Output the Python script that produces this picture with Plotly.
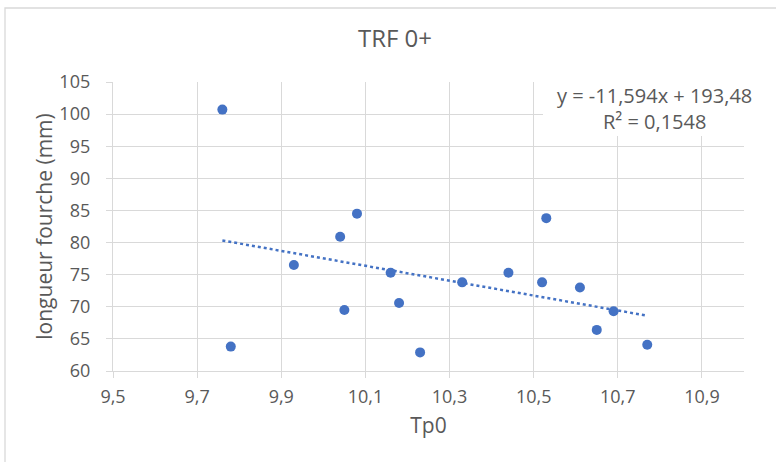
import plotly.graph_objects as go

# Data
tp0 = [9.76, 9.78, 9.93, 10.04, 10.05, 10.08, 10.16, 10.18, 10.23, 10.33,
       10.44, 10.52, 10.53, 10.61, 10.65, 10.69, 10.77]
longueur = [100.7, 63.8, 76.5, 80.9, 69.5, 84.5, 75.3, 70.6, 62.9, 73.8,
            75.3, 73.8, 83.8, 73.0, 66.4, 69.3, 64.1]
slope = -11.594
intercept = 193.48
r2_text = "R² = 0,1548"
eq_text = "y = -11,594x + 193,48"

x_ticks = [9.5, 9.7, 9.9, 10.1, 10.3, 10.5, 10.7, 10.9]
y_ticks = [60, 65, 70, 75, 80, 85, 90, 95, 100, 105]

TEXT = "#595959"
GRID = "#d9d9d9"
BLUE = "#4472c4"
FONT = "Open Sans"

xmin, xmax = min(tp0), max(tp0)
trend_x = [xmin, xmax]
trend_y = [slope * v + intercept for v in trend_x]

fig = go.Figure()
fig.add_trace(go.Scatter(
    x=trend_x, y=trend_y, mode="lines",
    line=dict(color=BLUE, width=2.5, dash="dot"),
    hoverinfo="skip", showlegend=False,
))
fig.add_trace(go.Scatter(
    x=tp0, y=longueur, mode="markers",
    marker=dict(color=BLUE, size=10),
    showlegend=False,
))

W, H = 776, 462
L, R, T, B = 113, 32, 82, 91
pw, ph = W - L - R, H - T - B

def px_x(p):
    return (p - L) / pw

def px_y(p):
    return (H - B - p) / ph

fig.update_layout(
    width=W, height=H,
    margin=dict(l=L, r=R, t=T, b=B, autoexpand=False),
    paper_bgcolor="white", plot_bgcolor="white",
    separators=", ",
    font=dict(family=FONT, color=TEXT, size=18),
    title=dict(text="TRF 0+", x=395 / W, xref="container", xanchor="center",
               y=1 - 39 / H, yref="container", yanchor="middle",
               font=dict(size=24, color=TEXT, family=FONT)),
    xaxis=dict(
        range=[9.5, 11.0], tickmode="array", tickvals=x_ticks,
        ticktext=[f"{v:.1f}".replace(".", ",") for v in x_ticks],
        showgrid=True, gridcolor=GRID, gridwidth=1.3,
        showline=True, linecolor=GRID, linewidth=1.3,
        ticks="outside", ticklen=6, tickcolor=GRID, tickwidth=1.3,
        zeroline=False, ticklabelstandoff=3, automargin=False,
        tickfont=dict(size=18, color=TEXT),
        title=dict(text="Tp0", font=dict(size=21, color=TEXT), standoff=11),
    ),
    yaxis=dict(
        range=[60, 105], tickmode="array", tickvals=y_ticks,
        showgrid=True, gridcolor=GRID, gridwidth=1.3,
        showline=True, linecolor=GRID, linewidth=1.3,
        ticks="outside", ticklen=6, tickcolor=GRID, tickwidth=1.3,
        zeroline=False, ticklabelstandoff=12, automargin=False,
        tickfont=dict(size=18, color=TEXT),
        title=dict(text="longueur fourche (mm)", font=dict(size=21, color=TEXT), standoff=1),
    ),
    shapes=[
        dict(type="rect", xref="paper", yref="paper",
             x0=px_x(5), x1=px_x(800), y0=px_y(480), y1=px_y(8),
             line=dict(color=GRID, width=1.3), fillcolor="rgba(0,0,0,0)",
             layer="below"),
        dict(type="rect", xref="paper", yref="paper",
             x0=px_x(543), x1=px_x(765), y0=px_y(136), y1=px_y(79),
             line=dict(width=0), fillcolor="white", layer="above"),
    ],
    annotations=[
        dict(text=eq_text + "<br>" + r2_text, xref="paper", yref="paper",
             x=px_x(654), y=px_y(108), xanchor="center", yanchor="middle",
             align="center", showarrow=False,
             font=dict(size=20, color=TEXT, family=FONT)),
    ],
)

fig.write_html("out.html", config={"displayModeBar": False},
               post_script="document.body.style.margin='0';document.body.style.padding='0';")
